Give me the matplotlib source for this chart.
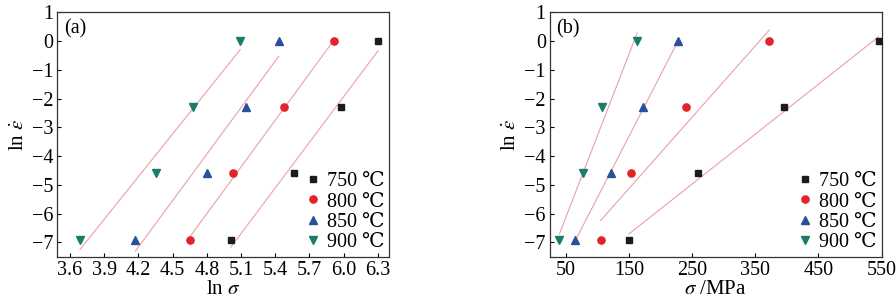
import numpy as np
import matplotlib
matplotlib.use("Agg")
import matplotlib.pyplot as plt

plt.rcParams['font.family'] = ['Liberation Serif', 'DejaVu Serif', 'DejaVu Sans']
plt.rcParams['mathtext.fontset'] = 'stix'
plt.rcParams['font.size'] = 14.5

# Data
temperatures = ["750 ℃", "800 ℃", "850 ℃", "900 ℃"]
strain_rates = [1.0, 0.1, 0.01, 0.001]
sigma_750 = [545, 395, 260, 150]
sigma_800 = [372, 240, 153, 105]
sigma_850 = [228, 172, 122, 65]
sigma_900 = [163, 108, 78, 40]

sigmas = [sigma_750, sigma_800, sigma_850, sigma_900]
colors = ['#1c1c1c', '#e3232c', '#2a4f9c', '#1a7d6c']
markers = ['s', 'o', '^', 'v']
msizes = [4.3, 5.2, 5.6, 5.6]
line_color = '#eaa0aa'

ln_rate = np.log(strain_rates)

fig = plt.figure(figsize=(8.96, 3.04), dpi=100)
axa = fig.add_axes([0.0640, 0.1556, 0.3705, 0.8039])
axb = fig.add_axes([0.6138, 0.1556, 0.3702, 0.8039])

for ax, use_log in ((axa, True), (axb, False)):
    for s, c, m, ms, lab in zip(sigmas, colors, markers, msizes, temperatures):
        x = np.log(s) if use_log else np.asarray(s, float)
        p = np.polyfit(x, ln_rate, 1)
        xs = np.array([x.min(), x.max()])
        ax.plot(xs, np.polyval(p, xs), color=line_color, lw=0.8, zorder=1)
        ax.plot(x, ln_rate, ls='none', marker=m, ms=ms, color=c, label=lab, zorder=3)
    ax.set_ylim(-7.5, 1)
    ax.set_yticks(range(-7, 2))
    ax.tick_params(direction='in', length=3, width=0.8, labelsize=14.5, pad=3)
    for sp in ax.spines.values():
        sp.set_linewidth(0.9)
        sp.set_color('#333333')
    ax.set_ylabel(r'ln $\dot{\varepsilon}$', fontsize=15, labelpad=3)
    leg = ax.legend(loc='lower right', frameon=False, handlelength=0.6,
                    handletextpad=0.4, labelspacing=0.05, borderaxespad=0.15,
                    borderpad=0.1, fontsize=14.5)

axa.set_xlim(3.49, 6.40)
axa.set_xticks(np.arange(3.6, 6.31, 0.3))
axa.set_xticklabels([f"{v:.1f}" for v in np.arange(3.6, 6.31, 0.3)])
axa.set_xlabel(r'ln $\sigma$', fontsize=15, labelpad=0)
axa.text(0.02, 0.97, '(a)', transform=axa.transAxes, va='top', ha='left', fontsize=14.5)

axb.set_xlim(25, 550)
axb.set_xticks([50, 150, 250, 350, 450, 550])
axb.set_xlabel(r'$\sigma$ /MPa', fontsize=15, labelpad=0)
axb.text(0.02, 0.97, '(b)', transform=axb.transAxes, va='top', ha='left', fontsize=14.5)

fig.savefig('out.png', dpi=100)
